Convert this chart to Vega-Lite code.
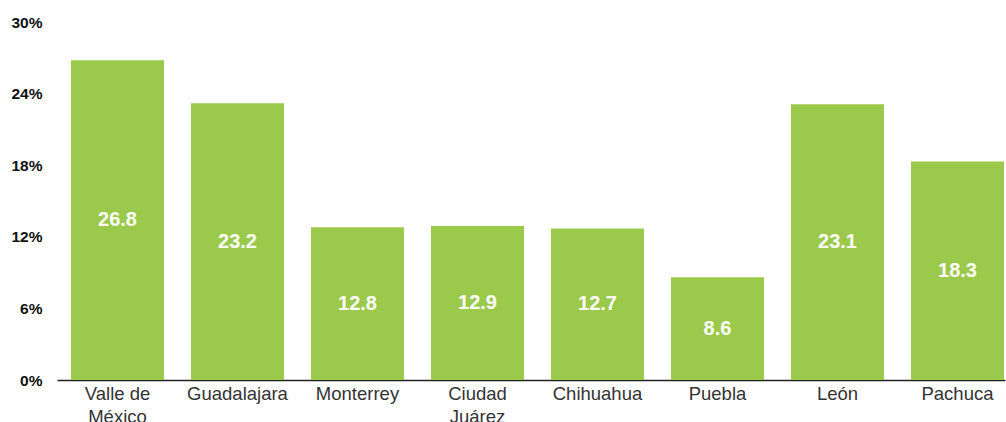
{
  "$schema": "https://vega.github.io/schema/vega-lite/v6.json",
  "autosize": "none",
  "width": 948,
  "height": 358,
  "padding": {"left": 57, "top": 22, "right": 1, "bottom": 42},
  "background": "white",
  "config": {"view": {"stroke": null}, "font": "Liberation Sans"},
  "data": {
    "values": [
      {"city": "Valle de|México", "value": 26.8},
      {"city": "Guadalajara", "value": 23.2},
      {"city": "Monterrey", "value": 12.8},
      {"city": "Ciudad|Juárez", "value": 12.9},
      {"city": "Chihuahua", "value": 12.7},
      {"city": "Puebla", "value": 8.6},
      {"city": "León", "value": 23.1},
      {"city": "Pachuca", "value": 18.3}
    ]
  },
  "encoding": {
    "x": {
      "field": "city", "type": "nominal", "sort": null,
      "scale": {"paddingInner": 0.225, "paddingOuter": 0.0625, "align": 0.933},
      "axis": {
        "title": null, "labelAngle": 0, "labelFontSize": 18.5, "labelColor": "#333333",
        "labelFont": "Liberation Sans", "labelPadding": 4, "ticks": false,
        "domainColor": "#222222", "domainWidth": 1.5, "labelLineHeight": 23,
        "labelExpr": "split(datum.value, '|')", "labelLimit": 0
      }
    }
  },
  "layer": [
    {
      "mark": {"type": "bar", "color": "#9BC94B"},
      "encoding": {
        "y": {
          "field": "value", "type": "quantitative",
          "scale": {"domain": [0, 30], "nice": false},
          "axis": {
            "title": null, "values": [0, 6, 12, 18, 24, 30], "grid": false, "domain": false,
            "ticks": false, "labelPadding": 15, "labelFontSize": 15.5, "labelFontWeight": "bold",
            "labelColor": "#111111", "labelExpr": "datum.value + '%'"
          }
        }
      }
    },
    {
      "transform": [{"calculate": "datum.value / 2", "as": "mid"}],
      "mark": {"type": "text", "color": "white", "fontSize": 20, "fontWeight": "bold", "baseline": "middle", "font": "Liberation Sans"},
      "encoding": {
        "y": {"field": "mid", "type": "quantitative"},
        "text": {"field": "value", "type": "quantitative", "format": ".1f"}
      }
    }
  ]
}
